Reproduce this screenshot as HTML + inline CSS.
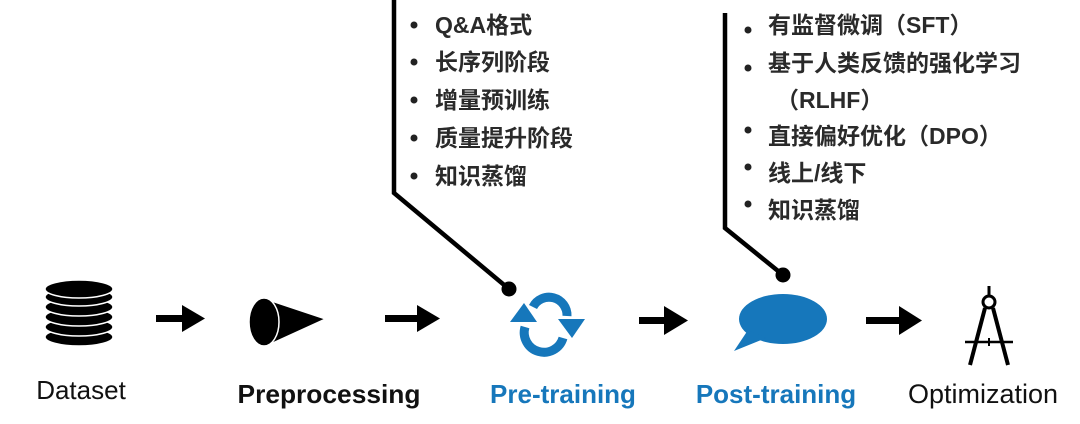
<!DOCTYPE html>
<html><head><meta charset="utf-8"><style>
html,body{margin:0;padding:0;background:#fff}
svg{display:block}
.cn{font-family:"Liberation Sans","Noto Sans CJK SC",sans-serif;font-weight:bold;font-size:23px;fill:#2a2a2a}
.lb{font-family:"Liberation Sans",sans-serif;font-size:26px}
</style></head><body>
<svg width="1080" height="424" viewBox="0 0 1080 424" xmlns="http://www.w3.org/2000/svg">
<polyline points="394,0 394,193 509,289" fill="none" stroke="#000" stroke-width="4.5"/>
<circle cx="509" cy="289" r="7.5" fill="#000"/>
<polyline points="725,13 725,228 783,275" fill="none" stroke="#000" stroke-width="4.5"/>
<circle cx="783" cy="275" r="7.5" fill="#000"/>
<g class="cn">
<circle cx="414" cy="25" r="3.5" fill="#222"/><text x="435" y="33">Q&amp;A格式</text>
<circle cx="414" cy="62" r="3.5" fill="#222"/><text x="435" y="70">长序列阶段</text>
<circle cx="414" cy="100" r="3.5" fill="#222"/><text x="435" y="108">增量预训练</text>
<circle cx="414" cy="138" r="3.5" fill="#222"/><text x="435" y="146">质量提升阶段</text>
<circle cx="414" cy="176" r="3.5" fill="#222"/><text x="435" y="184">知识蒸馏</text>
</g>
<g class="cn">
<circle cx="748" cy="30" r="3.5" fill="#222"/><text x="768" y="33">有监督微调（SFT）</text>
<circle cx="748" cy="68" r="3.5" fill="#222"/><text x="768" y="71">基于人类反馈的强化学习</text>
<text x="776" y="108">（RLHF）</text>
<circle cx="748" cy="130" r="3.5" fill="#222"/><text x="768" y="144">直接偏好优化（DPO）</text>
<circle cx="748" cy="167" r="3.5" fill="#222"/><text x="768" y="181">线上/线下</text>
<circle cx="748" cy="204" r="3.5" fill="#222"/><text x="768" y="218">知识蒸馏</text>
</g>
<g fill="#000" stroke="#fff" stroke-width="1.5">
<ellipse cx="79" cy="337" rx="34" ry="9"/>
<ellipse cx="79" cy="327" rx="34" ry="9"/>
<ellipse cx="79" cy="317" rx="34" ry="9"/>
<ellipse cx="79" cy="307" rx="34" ry="9"/>
<ellipse cx="79" cy="297" rx="34" ry="9"/>
<ellipse cx="79" cy="289" rx="34" ry="9"/>
</g>
<g fill="#000">
<rect x="156" y="315" width="28" height="7"/><polygon points="182,305 205,318.5 182,332"/>
<rect x="385" y="315" width="34" height="7"/><polygon points="417,305 440,318.5 417,332"/>
<rect x="639" y="317" width="30" height="7"/><polygon points="664,306 688,320.5 664,335"/>
<rect x="866" y="317" width="36" height="7"/><polygon points="899,306 922,320.5 899,335"/>
</g>
<polygon points="268,300 325,319 268,345" fill="#000" stroke="#fff" stroke-width="1"/>
<ellipse cx="264" cy="322" rx="15" ry="24" fill="#000" stroke="#fff" stroke-width="1.5"/>
<g fill="none" stroke="#1677bb" stroke-width="9">
<path d="M533,307 A18,18 0 0 1 567,316"/>
<path d="M563,338 A18,18 0 0 1 525,327"/>
</g>
<polygon points="510,322 524,303 537,322" fill="#1677bb"/>
<polygon points="558,319 585,319 572,338" fill="#1677bb"/>
<ellipse cx="783" cy="319" rx="44" ry="25" fill="#1677bb"/>
<polygon points="748,330 766,338 734,351" fill="#1677bb"/>
<g stroke="#000" fill="none">
<line x1="989" y1="286" x2="989" y2="296" stroke-width="3"/>
<circle cx="989" cy="302" r="6" stroke-width="3"/>
<line x1="985" y1="308" x2="970" y2="365" stroke-width="4"/>
<line x1="993" y1="308" x2="1008" y2="365" stroke-width="4"/>
<line x1="965" y1="342" x2="1013" y2="342" stroke-width="2.5"/>
<line x1="989" y1="338" x2="989" y2="346" stroke-width="2"/>
</g>
<text class="lb" x="81" y="399" text-anchor="middle" fill="#111" font-size="26">Dataset</text>
<text class="lb" x="329" y="403" text-anchor="middle" font-weight="bold" fill="#111" textLength="183" lengthAdjust="spacingAndGlyphs">Preprocessing</text>
<text class="lb" x="563" y="403" text-anchor="middle" font-weight="bold" fill="#1677bb">Pre-training</text>
<text class="lb" x="776" y="403" text-anchor="middle" font-weight="bold" fill="#1677bb">Post-training</text>
<text class="lb" x="983" y="403" text-anchor="middle" fill="#111" style="font-size:27px">Optimization</text>
</svg>
</body></html>
